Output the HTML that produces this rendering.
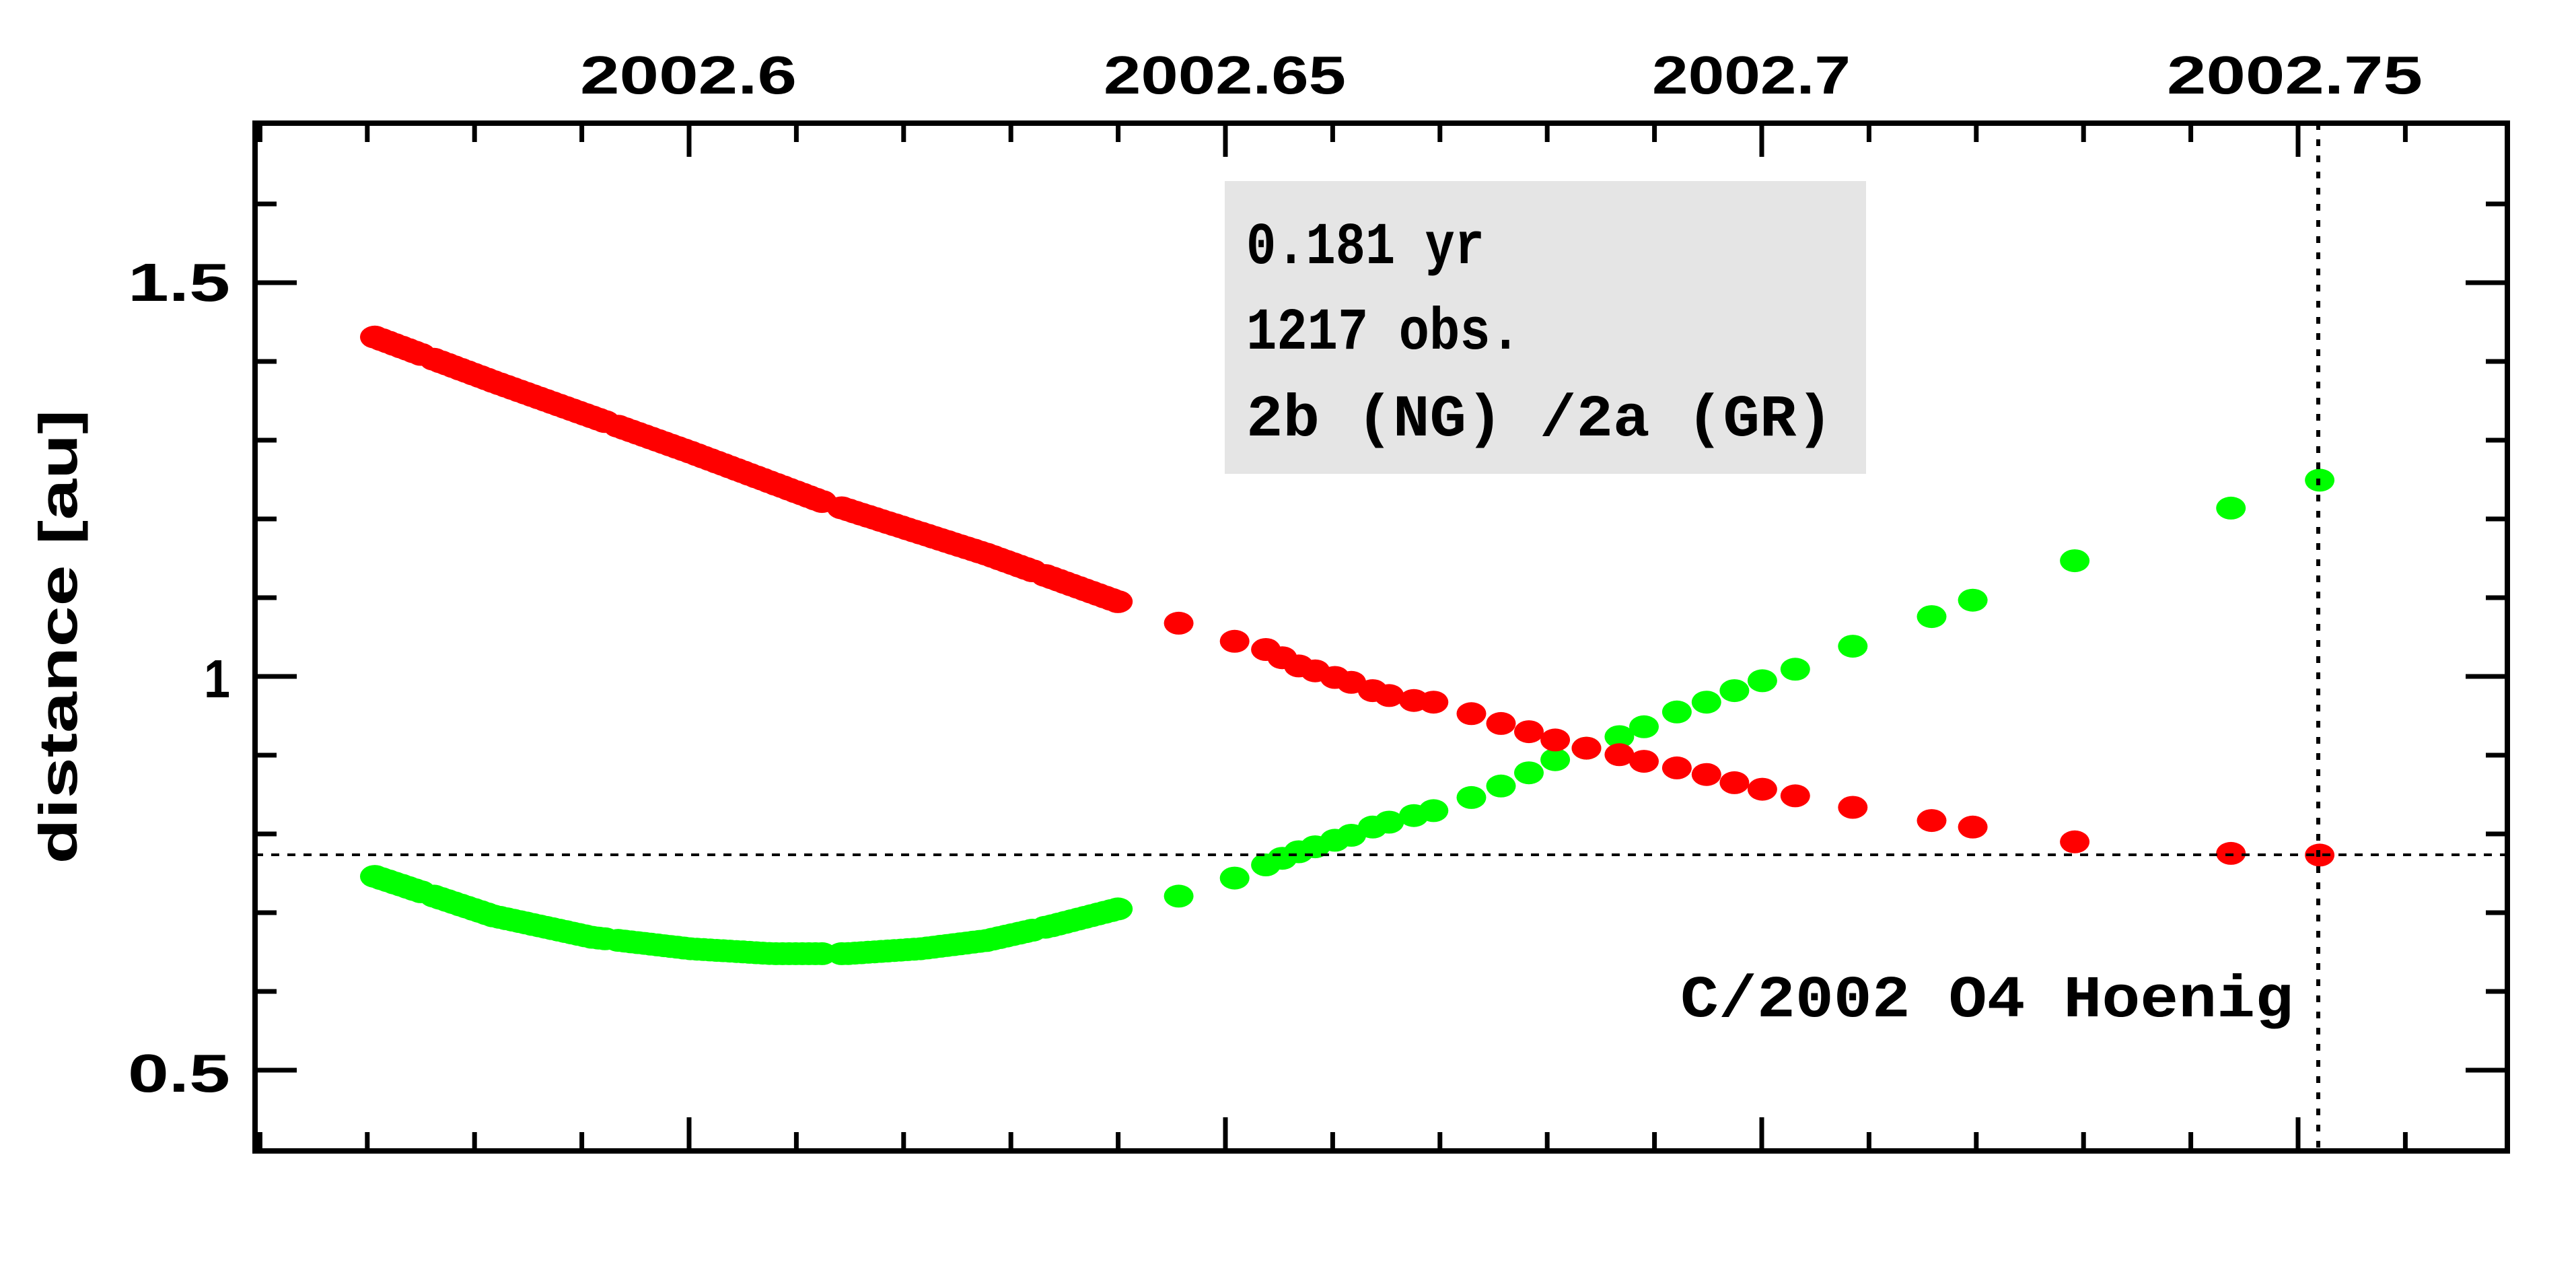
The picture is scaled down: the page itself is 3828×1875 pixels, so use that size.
<!DOCTYPE html>
<html><head><meta charset="utf-8"><style>html,body{margin:0;padding:0;background:#fff}svg{display:block}</style></head>
<body>
<svg id="s" width="3828" height="1875" xmlns="http://www.w3.org/2000/svg">
<rect width="3828" height="1875" fill="#fff"/>
<rect x="1820" y="269" width="953" height="435" fill="#e5e5e5"/>
<g id="dots"></g>
<line x1="379" y1="1270" x2="3726" y2="1270" stroke="#000" stroke-width="4" stroke-dasharray="12,12"/>
<line x1="3445" y1="183" x2="3445" y2="1710" stroke="#000" stroke-width="6" stroke-dasharray="10,14"/>
<g id="ticks" stroke="#000" stroke-width="7"></g>
<rect x="379" y="183" width="3347" height="1527" fill="none" stroke="#000" stroke-width="8"/>
<g font-family="Liberation Sans, sans-serif" font-weight="bold" font-size="80" fill="#000">
<text x="862" y="139" textLength="322" lengthAdjust="spacingAndGlyphs">2002.6</text>
<text x="1640" y="139" textLength="360" lengthAdjust="spacingAndGlyphs">2002.65</text>
<text x="2455" y="139" textLength="295" lengthAdjust="spacingAndGlyphs">2002.7</text>
<text x="3220" y="139" textLength="380" lengthAdjust="spacingAndGlyphs">2002.75</text>
<text x="190" y="447" textLength="152" lengthAdjust="spacingAndGlyphs">1.5</text>
<text x="303" y="1036" textLength="39" lengthAdjust="spacingAndGlyphs">1</text>
<text x="190" y="1622" textLength="152" lengthAdjust="spacingAndGlyphs">0.5</text>
<text transform="translate(114,946) rotate(-90)" text-anchor="middle" textLength="675" lengthAdjust="spacingAndGlyphs">distance [au]</text>
</g>
<g font-family="Liberation Mono, monospace" font-size="88" font-weight="bold" fill="#000">
<text x="1852" y="391" textLength="354" lengthAdjust="spacingAndGlyphs">0.181 yr</text>
<text x="1852" y="518" textLength="408" lengthAdjust="spacingAndGlyphs">1217 obs.</text>
<text x="1852" y="647" textLength="872" lengthAdjust="spacingAndGlyphs">2b (NG) /2a (GR)</text>
<text x="2497" y="1510" textLength="911" lengthAdjust="spacingAndGlyphs">C/2002 O4 Hoenig</text>
</g>
</svg>
<script>
(function(){
var SX=2.443,SY=2.443;
var tk=document.getElementById('ticks'),h='';
for(var i=0;i<=25;i++){var x=1024+(i-4)*159.4;if(x<385||x>3720)continue;var maj=((i-4)%5==0);var L=maj?50:28;
h+='<line x1="'+x+'" y1="183" x2="'+x+'" y2="'+(183+L)+'"/><line x1="'+x+'" y1="1710" x2="'+x+'" y2="'+(1710-L)+'"/>';}
for(var j=0;j<=13;j++){var v=0.4+j*0.1;var y=420+(1.5-v)*1170;if(y<187||y>1706)continue;var m=(Math.abs(v*2-Math.round(v*2))<1e-6);var L2=m?62:32;
h+='<line x1="379" y1="'+y+'" x2="'+(379+L2)+'" y2="'+y+'"/><line x1="3726" y1="'+y+'" x2="'+(3726-L2)+'" y2="'+y+'"/>';}
tk.innerHTML=h;
function interp(p,x){for(var i=0;i<p.length-1;i++){if(x<=p[i+1][0]){var t=(x-p[i][0])/(p[i+1][0]-p[i][0]);return p[i][1]+t*(p[i+1][1]-p[i][1]);}}return p[p.length-1][1];}
var redD=[[228,205],[300,232],[420,275],[500,305],[600,337],[683,367]];
var grnD=[[228,533],[300,557],[360,570],[420,577],[470,580],[515,580],[560,577],[600,572],[640,563],[683,552]];
var redS=[[717,379],[751,390],[770,395],[780,400],[790,405],[800,408],[812,412],[822,415],[835,420],[845,423],[860,426],[872,427],[895,434],[913,440],[930,445],[946,450],[965,455],[985,459],[1000,463],[1020,467],[1038,471],[1055,476],[1072,480],[1092,484],[1127,491],[1175,499],[1200,503],[1262,512],[1357,519],[1411,520]];
var grnS=[[717,545],[751,534],[770,526],[780,522],[790,518],[800,515],[812,511],[822,508],[835,503],[845,500],[860,496],[872,493],[895,485],[913,478],[930,470],[946,462],[965,455],[985,448],[1000,442],[1020,433],[1038,427],[1055,420],[1072,414],[1092,407],[1127,393],[1175,375],[1200,365],[1262,341],[1357,309],[1411,292]];
var out='';
function dot(x,y,c){out+='<ellipse cx="'+(x*SX).toFixed(1)+'" cy="'+(y*SY).toFixed(1)+'" rx="22" ry="17" fill="'+c+'"/>';}
var gaps=[[368,376],[502,509],[628,634],[258,262]];
function sk(x){for(var g=0;g<gaps.length;g++)if(x>gaps[g][0]&&x<gaps[g][1])return true;return false;}
for(var x=228;x<=683;x+=4){if(sk(x))continue;dot(x,interp(grnD,x),'#00ff00');}
for(var k=0;k<grnS.length;k++)dot(grnS[k][0],grnS[k][1],'#00ff00');
for(var x=228;x<=683;x+=4){if(sk(x))continue;dot(x,interp(redD,x),'#ff0000');}
for(var k=0;k<redS.length;k++)dot(redS[k][0],redS[k][1],'#ff0000');
document.getElementById('dots').innerHTML=out;
})();
</script>
</body></html>
